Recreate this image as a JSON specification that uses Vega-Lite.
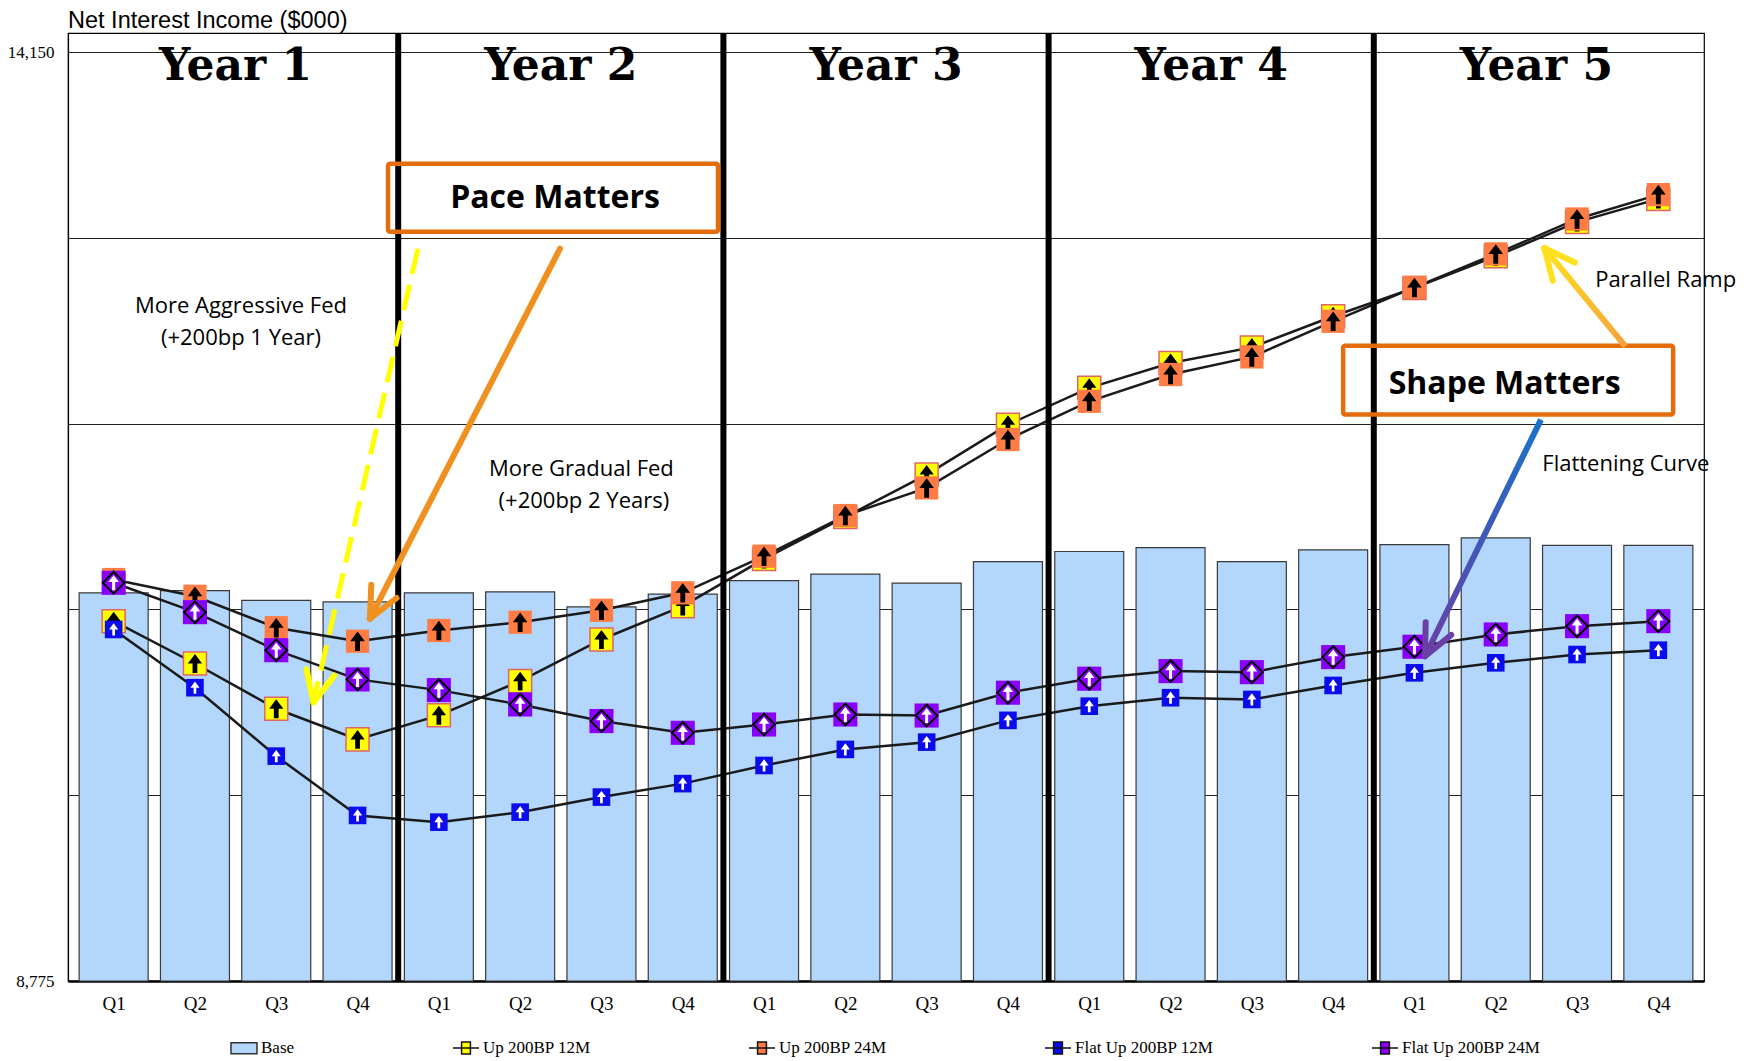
{
  "$schema": "https://vega.github.io/schema/vega-lite/v6.json",
  "width": 1636,
  "height": 948,
  "autosize": {"type": "none"},
  "padding": {"left": 68, "top": 33, "right": 56, "bottom": 80},
  "background": "white",
  "title": {
    "text": "Net Interest Income ($000)",
    "anchor": "start",
    "frame": "group",
    "font": "Liberation Sans",
    "fontSize": 23.5,
    "fontWeight": "normal",
    "color": "#000",
    "offset": -2
  },
  "config": {
    "view": {"stroke": "#000", "strokeWidth": 1.2},
    "point": {"opacity": 1}
  },
  "datasets": {
    "base": [
      {"q": 1, "nii": 11021}, {"q": 2, "nii": 11034}, {"q": 3, "nii": 10977}, {"q": 4, "nii": 10969},
      {"q": 5, "nii": 11021}, {"q": 6, "nii": 11027}, {"q": 7, "nii": 10940}, {"q": 8, "nii": 11013},
      {"q": 9, "nii": 11092}, {"q": 10, "nii": 11129}, {"q": 11, "nii": 11077}, {"q": 12, "nii": 11202},
      {"q": 13, "nii": 11260}, {"q": 14, "nii": 11283}, {"q": 15, "nii": 11202}, {"q": 16, "nii": 11270},
      {"q": 17, "nii": 11300}, {"q": 18, "nii": 11339}, {"q": 19, "nii": 11295}, {"q": 20, "nii": 11295}
    ],
    "scen": [
      {"q": 1, "scenario": "Up 200BP 12M", "nii": 10857}, {"q": 2, "scenario": "Up 200BP 12M", "nii": 10612},
      {"q": 3, "scenario": "Up 200BP 12M", "nii": 10350}, {"q": 4, "scenario": "Up 200BP 12M", "nii": 10173},
      {"q": 5, "scenario": "Up 200BP 12M", "nii": 10312}, {"q": 6, "scenario": "Up 200BP 12M", "nii": 10510},
      {"q": 7, "scenario": "Up 200BP 12M", "nii": 10751}, {"q": 8, "scenario": "Up 200BP 12M", "nii": 10944},
      {"q": 9, "scenario": "Up 200BP 12M", "nii": 11217}, {"q": 10, "scenario": "Up 200BP 12M", "nii": 11460},
      {"q": 11, "scenario": "Up 200BP 12M", "nii": 11705}, {"q": 12, "scenario": "Up 200BP 12M", "nii": 11994},
      {"q": 13, "scenario": "Up 200BP 12M", "nii": 12207}, {"q": 14, "scenario": "Up 200BP 12M", "nii": 12351},
      {"q": 15, "scenario": "Up 200BP 12M", "nii": 12441}, {"q": 16, "scenario": "Up 200BP 12M", "nii": 12621},
      {"q": 17, "scenario": "Up 200BP 12M", "nii": 12785}, {"q": 18, "scenario": "Up 200BP 12M", "nii": 12968},
      {"q": 19, "scenario": "Up 200BP 12M", "nii": 13166}, {"q": 20, "scenario": "Up 200BP 12M", "nii": 13300},
      {"q": 1, "scenario": "Up 200BP 24M", "nii": 11098}, {"q": 2, "scenario": "Up 200BP 24M", "nii": 11001},
      {"q": 3, "scenario": "Up 200BP 24M", "nii": 10819}, {"q": 4, "scenario": "Up 200BP 24M", "nii": 10741},
      {"q": 5, "scenario": "Up 200BP 24M", "nii": 10803}, {"q": 6, "scenario": "Up 200BP 24M", "nii": 10851},
      {"q": 7, "scenario": "Up 200BP 24M", "nii": 10920}, {"q": 8, "scenario": "Up 200BP 24M", "nii": 11021},
      {"q": 9, "scenario": "Up 200BP 24M", "nii": 11233}, {"q": 10, "scenario": "Up 200BP 24M", "nii": 11468},
      {"q": 11, "scenario": "Up 200BP 24M", "nii": 11628}, {"q": 12, "scenario": "Up 200BP 24M", "nii": 11908},
      {"q": 13, "scenario": "Up 200BP 24M", "nii": 12129}, {"q": 14, "scenario": "Up 200BP 24M", "nii": 12284},
      {"q": 15, "scenario": "Up 200BP 24M", "nii": 12386}, {"q": 16, "scenario": "Up 200BP 24M", "nii": 12592},
      {"q": 17, "scenario": "Up 200BP 24M", "nii": 12788}, {"q": 18, "scenario": "Up 200BP 24M", "nii": 12982},
      {"q": 19, "scenario": "Up 200BP 24M", "nii": 13184}, {"q": 20, "scenario": "Up 200BP 24M", "nii": 13325},
      {"q": 1, "scenario": "Flat Up 200BP 12M", "nii": 10809}, {"q": 2, "scenario": "Flat Up 200BP 12M", "nii": 10472},
      {"q": 3, "scenario": "Flat Up 200BP 12M", "nii": 10076}, {"q": 4, "scenario": "Flat Up 200BP 12M", "nii": 9733},
      {"q": 5, "scenario": "Flat Up 200BP 12M", "nii": 9694}, {"q": 6, "scenario": "Flat Up 200BP 12M", "nii": 9752},
      {"q": 7, "scenario": "Flat Up 200BP 12M", "nii": 9839}, {"q": 8, "scenario": "Flat Up 200BP 12M", "nii": 9917},
      {"q": 9, "scenario": "Flat Up 200BP 12M", "nii": 10022}, {"q": 10, "scenario": "Flat Up 200BP 12M", "nii": 10115},
      {"q": 11, "scenario": "Flat Up 200BP 12M", "nii": 10157}, {"q": 12, "scenario": "Flat Up 200BP 12M", "nii": 10283},
      {"q": 13, "scenario": "Flat Up 200BP 12M", "nii": 10365}, {"q": 14, "scenario": "Flat Up 200BP 12M", "nii": 10414},
      {"q": 15, "scenario": "Flat Up 200BP 12M", "nii": 10404}, {"q": 16, "scenario": "Flat Up 200BP 12M", "nii": 10485},
      {"q": 17, "scenario": "Flat Up 200BP 12M", "nii": 10558}, {"q": 18, "scenario": "Flat Up 200BP 12M", "nii": 10616},
      {"q": 19, "scenario": "Flat Up 200BP 12M", "nii": 10664}, {"q": 20, "scenario": "Flat Up 200BP 12M", "nii": 10689},
      {"q": 1, "scenario": "Flat Up 200BP 24M", "nii": 11079}, {"q": 2, "scenario": "Flat Up 200BP 24M", "nii": 10909},
      {"q": 3, "scenario": "Flat Up 200BP 24M", "nii": 10689}, {"q": 4, "scenario": "Flat Up 200BP 24M", "nii": 10520},
      {"q": 5, "scenario": "Flat Up 200BP 24M", "nii": 10458}, {"q": 6, "scenario": "Flat Up 200BP 24M", "nii": 10375},
      {"q": 7, "scenario": "Flat Up 200BP 24M", "nii": 10279}, {"q": 8, "scenario": "Flat Up 200BP 24M", "nii": 10211},
      {"q": 9, "scenario": "Flat Up 200BP 24M", "nii": 10259}, {"q": 10, "scenario": "Flat Up 200BP 24M", "nii": 10317},
      {"q": 11, "scenario": "Flat Up 200BP 24M", "nii": 10311}, {"q": 12, "scenario": "Flat Up 200BP 24M", "nii": 10443},
      {"q": 13, "scenario": "Flat Up 200BP 24M", "nii": 10524}, {"q": 14, "scenario": "Flat Up 200BP 24M", "nii": 10568},
      {"q": 15, "scenario": "Flat Up 200BP 24M", "nii": 10562}, {"q": 16, "scenario": "Flat Up 200BP 24M", "nii": 10649},
      {"q": 17, "scenario": "Flat Up 200BP 24M", "nii": 10709}, {"q": 18, "scenario": "Flat Up 200BP 24M", "nii": 10780},
      {"q": 19, "scenario": "Flat Up 200BP 24M", "nii": 10828}, {"q": 20, "scenario": "Flat Up 200BP 24M", "nii": 10857}
    ],
    "notes": [
      {"kind": "year", "q": 2.5, "nii": 13990, "label": "Year 1"},
      {"kind": "year", "q": 6.5, "nii": 13990, "label": "Year 2"},
      {"kind": "year", "q": 10.5, "nii": 13990, "label": "Year 3"},
      {"kind": "year", "q": 14.5, "nii": 13990, "label": "Year 4"},
      {"kind": "year", "q": 18.5, "nii": 13990, "label": "Year 5"},
      {"kind": "sep", "q": 4.5, "nii": 8775, "q2": 4.5, "nii2": 14260},
      {"kind": "sep", "q": 8.5, "nii": 8775, "q2": 8.5, "nii2": 14260},
      {"kind": "sep", "q": 12.5, "nii": 8775, "q2": 12.5, "nii2": 14260},
      {"kind": "sep", "q": 16.5, "nii": 8775, "q2": 16.5, "nii2": 14260},
      {"kind": "box", "q": 4.375, "nii": 13504, "q2": 8.434, "nii2": 13110},
      {"kind": "box", "q": 16.123, "nii": 12451, "q2": 20.182, "nii2": 12052},
      {"kind": "boxtext", "q": 6.429, "nii": 13249, "label": "Pace  Matters"},
      {"kind": "boxtext", "q": 18.11, "nii": 12174, "label": "Shape Matters"},
      {"kind": "note", "q": 2.566, "nii": 12642, "label": "More Aggressive Fed"},
      {"kind": "note", "q": 2.566, "nii": 12457, "label": "(+200bp 1 Year)"},
      {"kind": "note", "q": 6.753, "nii": 11699, "label": "More Gradual Fed"},
      {"kind": "note", "q": 6.784, "nii": 11514, "label": "(+200bp 2 Years)"},
      {"kind": "note", "q": 20.09, "nii": 12792, "label": "Parallel Ramp"},
      {"kind": "note", "q": 19.6, "nii": 11723, "label": "Flattening Curve"},
      {"kind": "yshaft", "q": 4.742, "nii": 13012, "q2": 3.458, "nii2": 10387},
      {"kind": "yhead", "q": 3.458, "nii": 10387, "q2": 3.714, "nii2": 10542},
      {"kind": "yhead", "q": 3.458, "nii": 10387, "q2": 3.372, "nii2": 10578},
      {"kind": "oarrow", "q": 6.49, "nii": 13012, "q2": 4.152, "nii2": 10871},
      {"kind": "oarrow", "q": 4.152, "nii": 10871, "q2": 4.48, "nii2": 10991},
      {"kind": "oarrow", "q": 4.152, "nii": 10871, "q2": 4.169, "nii2": 11067},
      {"kind": "gshaft", "q": 19.595, "nii": 12447, "q2": 18.597, "nii2": 13016},
      {"kind": "ghead", "q": 18.597, "nii": 13016, "q2": 18.702, "nii2": 12826},
      {"kind": "ghead", "q": 18.597, "nii": 13016, "q2": 18.972, "nii2": 12932},
      {"kind": "bshaft", "q": 18.556, "nii": 12023, "q2": 17.13, "nii2": 10654},
      {"kind": "bhead", "q": 17.13, "nii": 10654, "q2": 17.453, "nii2": 10778},
      {"kind": "bhead", "q": 17.13, "nii": 10654, "q2": 17.138, "nii2": 10851}
    ]
  },
  "encoding": {
    "x": {
      "field": "q",
      "type": "quantitative",
      "scale": {"domain": [0.5, 20.5], "nice": false, "zero": false},
      "axis": {
        "title": null,
        "values": [1, 2, 3, 4, 5, 6, 7, 8, 9, 10, 11, 12, 13, 14, 15, 16, 17, 18, 19, 20],
        "labelExpr": "'Q' + ((datum.value - 1) % 4 + 1)",
        "labelFont": "Liberation Serif",
        "labelFontSize": 19,
        "labelColor": "#000",
        "labelPadding": 13,
        "ticks": false,
        "grid": false,
        "domainColor": "#000",
        "domainWidth": 2.5
      }
    },
    "y": {
      "field": "nii",
      "type": "quantitative",
      "scale": {"domain": [8775, 14260], "nice": false, "zero": false},
      "axis": {
        "title": null,
        "values": [8775, 9850, 10925, 12000, 13075, 14150],
        "labelExpr": "datum.value == 8775 || datum.value == 14150 ? format(datum.value, ',') : ''",
        "labelFont": "Liberation Serif",
        "labelFontSize": 17,
        "labelColor": "#000",
        "labelPadding": 14,
        "ticks": false,
        "grid": true,
        "gridColor": "#222",
        "gridWidth": 1,
        "domainColor": "#000",
        "domainWidth": 1.2
      }
    }
  },
  "layer": [
    {
      "data": {"name": "scen"},
      "mark": {"type": "point", "filled": true, "opacity": 0, "size": 676, "strokeWidth": 1.5},
      "encoding": {
        "fill": {
          "field": "scenario",
          "type": "nominal",
          "scale": {
            "domain": ["Base", "Up 200BP 12M", "Up 200BP 24M", "Flat Up 200BP 12M", "Flat Up 200BP 24M"],
            "range": ["#b2d6fc", "#ffff00", "#ff7d45", "#0b0bec", "#8a00ff"]
          },
          "legend": {
            "title": null,
            "orient": "none",
            "legendX": 162,
            "legendY": 1001,
            "direction": "horizontal",
            "columns": 5,
            "columnPadding": 155,
            "gridAlign": "each",
            "padding": 0,
            "labelFont": "Liberation Serif",
            "labelFontSize": 17,
            "labelColor": "#000",
            "labelOffset": 3,
            "symbolSize": 676,
            "symbolOpacity": 1,
            "symbolStrokeWidth": 1.5
          }
        },
        "stroke": {
          "field": "scenario",
          "type": "nominal",
          "scale": {
            "domain": ["Base", "Up 200BP 12M", "Up 200BP 24M", "Flat Up 200BP 12M", "Flat Up 200BP 24M"],
            "range": ["#333333", "#111111", "#111111", "#111111", "#111111"]
          },
          "legend": {
            "title": null,
            "orient": "none",
            "legendX": 162,
            "legendY": 1001,
            "direction": "horizontal",
            "columns": 5,
            "columnPadding": 155,
            "gridAlign": "each",
            "padding": 0,
            "labelFont": "Liberation Serif",
            "labelFontSize": 17,
            "labelColor": "#000",
            "labelOffset": 3,
            "symbolSize": 676,
            "symbolOpacity": 1,
            "symbolStrokeWidth": 1.5
          }
        },
        "shape": {
          "field": "scenario",
          "type": "nominal",
          "scale": {
            "domain": ["Base", "Up 200BP 12M", "Up 200BP 24M", "Flat Up 200BP 12M", "Flat Up 200BP 24M"],
            "range": [
              "M-1,-0.42L1,-0.42L1,0.42L-1,0.42Z",
              "M-1,0L1,0M-0.34,-0.46L0.34,-0.46L0.34,0.46L-0.34,0.46Z",
              "M-1,0L1,0M-0.34,-0.46L0.34,-0.46L0.34,0.46L-0.34,0.46Z",
              "M-1,0L1,0M-0.34,-0.46L0.34,-0.46L0.34,0.46L-0.34,0.46Z",
              "M-1,0L1,0M-0.34,-0.46L0.34,-0.46L0.34,0.46L-0.34,0.46Z"
            ]
          },
          "legend": {
            "title": null,
            "orient": "none",
            "legendX": 162,
            "legendY": 1001,
            "direction": "horizontal",
            "columns": 5,
            "columnPadding": 155,
            "gridAlign": "each",
            "padding": 0,
            "labelFont": "Liberation Serif",
            "labelFontSize": 17,
            "labelColor": "#000",
            "labelOffset": 3,
            "symbolSize": 676,
            "symbolOpacity": 1,
            "symbolStrokeWidth": 1.5
          }
        }
      }
    },
    {
      "data": {"name": "base"},
      "mark": {"type": "bar", "width": 69, "fill": "#b2d6fc", "stroke": "#3a3a3a", "strokeWidth": 1.2},
      "encoding": {"y2": {"datum": 8775}}
    },
    {
      "data": {"name": "scen"},
      "mark": {"type": "line", "stroke": "#1a1a1a", "strokeWidth": 2.5},
      "encoding": {"detail": {"field": "scenario"}}
    },
    {
      "data": {"name": "notes"},
      "transform": [{"filter": "datum.kind == 'sep'"}],
      "mark": {"type": "rule", "stroke": "#000", "strokeWidth": 6},
      "encoding": {"x2": {"field": "q2"}, "y2": {"field": "nii2"}}
    },
    {
      "data": {"name": "scen"},
      "transform": [{"filter": "datum.scenario == 'Up 200BP 12M'"}],
      "mark": {"type": "point", "shape": "square", "filled": true, "fill": "#ffff00", "size": 530, "stroke": "#e06666", "strokeWidth": 1.5, "opacity": 1}
    },
    {
      "data": {"name": "scen"},
      "transform": [{"filter": "datum.scenario == 'Up 200BP 12M'"}],
      "mark": {"type": "point", "shape": "M0,-1L0.75,0L0.25,0L0.25,1L-0.25,1L-0.25,0L-0.75,0Z", "filled": true, "fill": "#000", "size": 360, "strokeWidth": 0, "opacity": 1}
    },
    {
      "data": {"name": "scen"},
      "transform": [{"filter": "datum.scenario == 'Up 200BP 24M'"}],
      "mark": {"type": "point", "shape": "square", "filled": true, "fill": "#ff7d45", "size": 540, "strokeWidth": 0, "opacity": 1}
    },
    {
      "data": {"name": "scen"},
      "transform": [{"filter": "datum.scenario == 'Up 200BP 24M'"}],
      "mark": {"type": "point", "shape": "M0,-1L0.75,0L0.25,0L0.25,1L-0.25,1L-0.25,0L-0.75,0Z", "filled": true, "fill": "#000", "size": 380, "strokeWidth": 0, "opacity": 1}
    },
    {
      "data": {"name": "scen"},
      "transform": [{"filter": "datum.scenario == 'Flat Up 200BP 12M'"}],
      "mark": {"type": "point", "shape": "square", "filled": true, "fill": "#0b0bec", "size": 310, "strokeWidth": 0, "opacity": 1}
    },
    {
      "data": {"name": "scen"},
      "transform": [{"filter": "datum.scenario == 'Flat Up 200BP 12M'"}],
      "mark": {"type": "point", "shape": "M0,-1L0.75,0L0.22,0L0.22,1L-0.22,1L-0.22,0L-0.75,0Z", "filled": true, "fill": "#fff", "size": 150, "strokeWidth": 0, "opacity": 1}
    },
    {
      "data": {"name": "scen"},
      "transform": [{"filter": "datum.scenario == 'Flat Up 200BP 24M'"}],
      "mark": {"type": "point", "shape": "square", "filled": true, "fill": "#8a00ff", "size": 580, "strokeWidth": 0, "opacity": 1}
    },
    {
      "data": {"name": "scen"},
      "transform": [{"filter": "datum.scenario == 'Flat Up 200BP 24M'"}],
      "mark": {"type": "point", "shape": "diamond", "filled": false, "stroke": "#000", "strokeWidth": 2, "size": 470, "opacity": 1}
    },
    {
      "data": {"name": "scen"},
      "transform": [{"filter": "datum.scenario == 'Flat Up 200BP 24M'"}],
      "mark": {"type": "point", "shape": "M0,-1L0.7,-0.1L0.2,-0.1L0.2,1L-0.2,1L-0.2,-0.1L-0.7,-0.1Z", "filled": true, "fill": "#fff", "size": 230, "strokeWidth": 0, "opacity": 1}
    },
    {
      "data": {"name": "notes"},
      "transform": [{"filter": "datum.kind == 'year'"}],
      "mark": {"type": "text", "font": "DejaVu Serif", "fontWeight": "bold", "fontSize": 44, "align": "center", "baseline": "alphabetic", "fill": "#000"},
      "encoding": {"text": {"field": "label"}}
    },
    {
      "data": {"name": "notes"},
      "transform": [{"filter": "datum.kind == 'box'"}],
      "mark": {"type": "rect", "fill": "#fff", "fillOpacity": 0, "stroke": "#e46c0a", "strokeWidth": 4.5, "cornerRadius": 2},
      "encoding": {"x2": {"field": "q2"}, "y2": {"field": "nii2"}}
    },
    {
      "data": {"name": "notes"},
      "transform": [{"filter": "datum.kind == 'boxtext'"}],
      "mark": {"type": "text", "font": "Open Sans", "fontWeight": "bold", "fontSize": 32, "align": "center", "baseline": "alphabetic", "fill": "#000"},
      "encoding": {"text": {"field": "label"}}
    },
    {
      "data": {"name": "notes"},
      "transform": [{"filter": "datum.kind == 'note'"}],
      "mark": {"type": "text", "font": "Open Sans", "fontSize": 22, "align": "center", "baseline": "alphabetic", "fill": "#000"},
      "encoding": {"text": {"field": "label"}}
    },
    {
      "data": {"name": "notes"},
      "transform": [{"filter": "datum.kind == 'yshaft'"}],
      "mark": {"type": "rule", "stroke": "#ffff00", "strokeWidth": 5, "strokeDash": [26, 11]},
      "encoding": {"x2": {"field": "q2"}, "y2": {"field": "nii2"}}
    },
    {
      "data": {"name": "notes"},
      "transform": [{"filter": "datum.kind == 'yhead'"}],
      "mark": {"type": "rule", "stroke": "#ffff00", "strokeWidth": 6, "strokeCap": "round"},
      "encoding": {"x2": {"field": "q2"}, "y2": {"field": "nii2"}}
    },
    {
      "data": {"name": "notes"},
      "transform": [{"filter": "datum.kind == 'oarrow'"}],
      "mark": {"type": "rule", "stroke": "#f0901e", "strokeWidth": 6, "strokeCap": "round"},
      "encoding": {"x2": {"field": "q2"}, "y2": {"field": "nii2"}}
    },
    {
      "data": {"name": "notes"},
      "transform": [{"filter": "datum.kind == 'gshaft'"}],
      "mark": {
        "type": "rule",
        "strokeWidth": 6,
        "stroke": {"gradient": "linear", "x1": 1, "y1": 1, "x2": 0, "y2": 0, "stops": [{"offset": 0, "color": "#f5a13f"}, {"offset": 1, "color": "#ffe21b"}]}
      },
      "encoding": {"x2": {"field": "q2"}, "y2": {"field": "nii2"}}
    },
    {
      "data": {"name": "notes"},
      "transform": [{"filter": "datum.kind == 'ghead'"}],
      "mark": {"type": "rule", "stroke": "#ffe01c", "strokeWidth": 6, "strokeCap": "round"},
      "encoding": {"x2": {"field": "q2"}, "y2": {"field": "nii2"}}
    },
    {
      "data": {"name": "notes"},
      "transform": [{"filter": "datum.kind == 'bshaft'"}],
      "mark": {
        "type": "rule",
        "strokeWidth": 6,
        "stroke": {"gradient": "linear", "x1": 1, "y1": 0, "x2": 0, "y2": 1, "stops": [{"offset": 0, "color": "#1874c9"}, {"offset": 1, "color": "#6a3fa6"}]}
      },
      "encoding": {"x2": {"field": "q2"}, "y2": {"field": "nii2"}}
    },
    {
      "data": {"name": "notes"},
      "transform": [{"filter": "datum.kind == 'bhead'"}],
      "mark": {"type": "rule", "stroke": "#6a3fa6", "strokeWidth": 6, "strokeCap": "round"},
      "encoding": {"x2": {"field": "q2"}, "y2": {"field": "nii2"}}
    }
  ]
}
